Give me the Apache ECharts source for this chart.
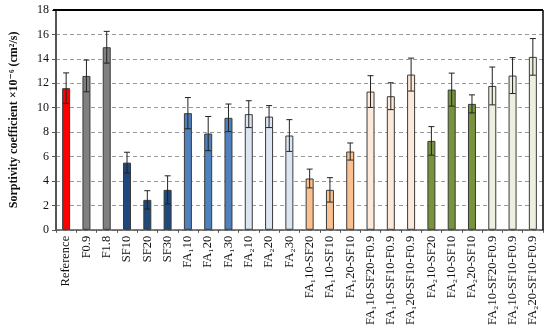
<!DOCTYPE html>
<html><head><meta charset="utf-8">
<script src="https://cdn.jsdelivr.net/npm/echarts@6/dist/echarts.min.js"></script>
<style>html,body{margin:0;padding:0;background:#fff}#c{width:550px;height:328px}</style>
</head><body><div id="c"></div>
<script>
const categories = ["Reference","F0.9","F1.8","SF10","SF20","SF30","FA₁10","FA₁20","FA₁30","FA₂10","FA₂20","FA₂30","FA₁10-SF20","FA₁10-SF10","FA₁20-SF10","FA₁10-SF20-F0.9","FA₁10-SF10-F0.9","FA₁20-SF10-F0.9","FA₂10-SF20","FA₂10-SF10","FA₂20-SF10","FA₂10-SF20-F0.9","FA₂10-SF10-F0.9","FA₂20-SF10-F0.9"];
const values = [11.6,12.6,14.95,5.5,2.45,3.27,9.55,7.88,9.17,9.47,9.27,7.72,4.2,3.27,6.41,11.32,10.94,12.71,7.28,11.48,10.31,11.78,12.63,14.16];
const errors = [1.25,1.3,1.3,0.85,0.75,1.15,1.28,1.4,1.13,1.1,0.9,1.3,0.77,1.0,0.7,1.3,1.1,1.35,1.17,1.35,0.74,1.55,1.47,1.5];
const colors = ["#ff0000","#808080","#808080","#1f497d","#1f497d","#1f497d","#4f81bd","#4f81bd","#4f81bd","#dce6f2","#dce6f2","#dce6f2","#fac090","#fac090","#fac090","#fde9d9","#fde9d9","#fde9d9","#77933c","#77933c","#77933c","#ebf1de","#ebf1de","#ebf1de"];
const yTicks = [0,2,4,6,8,10,12,14,16,18];

const chart = echarts.init(document.getElementById('c'));
const serif = '"Liberation Serif","DejaVu Serif",serif';
chart.setOption({
  animation:false,
  grid:{left:53,right:7,top:10,bottom:98,show:true,borderColor:'#000',borderWidth:0},
  xAxis:{type:'category',data:categories,
    axisLine:{lineStyle:{color:'#555',width:1.5}},
    axisTick:{show:true,length:3,lineStyle:{color:'#555'}},
    axisLabel:{rotate:90,interval:0,fontFamily:serif,fontSize:12.5,color:'#111',margin:6}},
  yAxis:{type:'value',min:0,max:18,interval:2,
    name:'Sorptivity coefficient ×10⁻⁶ (cm²/s)',nameLocation:'middle',nameGap:36,
    nameTextStyle:{fontFamily:serif,fontWeight:'bold',fontSize:12,color:'#111'},
    axisLine:{show:true,lineStyle:{color:'#555',width:2}},
    axisTick:{show:true,length:4,inside:false,lineStyle:{color:'#555'}},
    axisLabel:{fontFamily:serif,fontSize:12,color:'#111',margin:7,formatter:v=>yTicks.includes(v)?String(v):''},
    splitLine:{show:true,lineStyle:{color:'#999',type:[4,3],width:1}}},
  graphic:[
    {type:'line',shape:{x1:53,y1:10,x2:543,y2:10},style:{stroke:'#000',lineWidth:2},z:10},
    {type:'line',shape:{x1:543,y1:10,x2:543,y2:230},style:{stroke:'#000',lineWidth:1.5},z:10}
  ],
  series:[
    {type:'bar',barWidth:8,data:values.map((v,i)=>({value:v,itemStyle:{color:colors[i]}})),
      itemStyle:{borderColor:'#3a3a3a',borderWidth:1}},
    {type:'custom',z:5,data:values.map((v,i)=>[i,v,errors[i]]),
      renderItem:function(params,api){
        const x=api.value(0),v=api.value(1),e=api.value(2);
        const hi=api.coord([x,v+e]),lo=api.coord([x,v-e]);
        const w=3;
        const st={stroke:'#222',lineWidth:1};
        return {type:'group',children:[
          {type:'line',shape:{x1:hi[0],y1:hi[1],x2:lo[0],y2:lo[1]},style:st},
          {type:'line',shape:{x1:hi[0]-w,y1:hi[1],x2:hi[0]+w,y2:hi[1]},style:st},
          {type:'line',shape:{x1:lo[0]-w,y1:lo[1],x2:lo[0]+w,y2:lo[1]},style:st}
        ]};
      }}
  ]
});
</script></body></html>
